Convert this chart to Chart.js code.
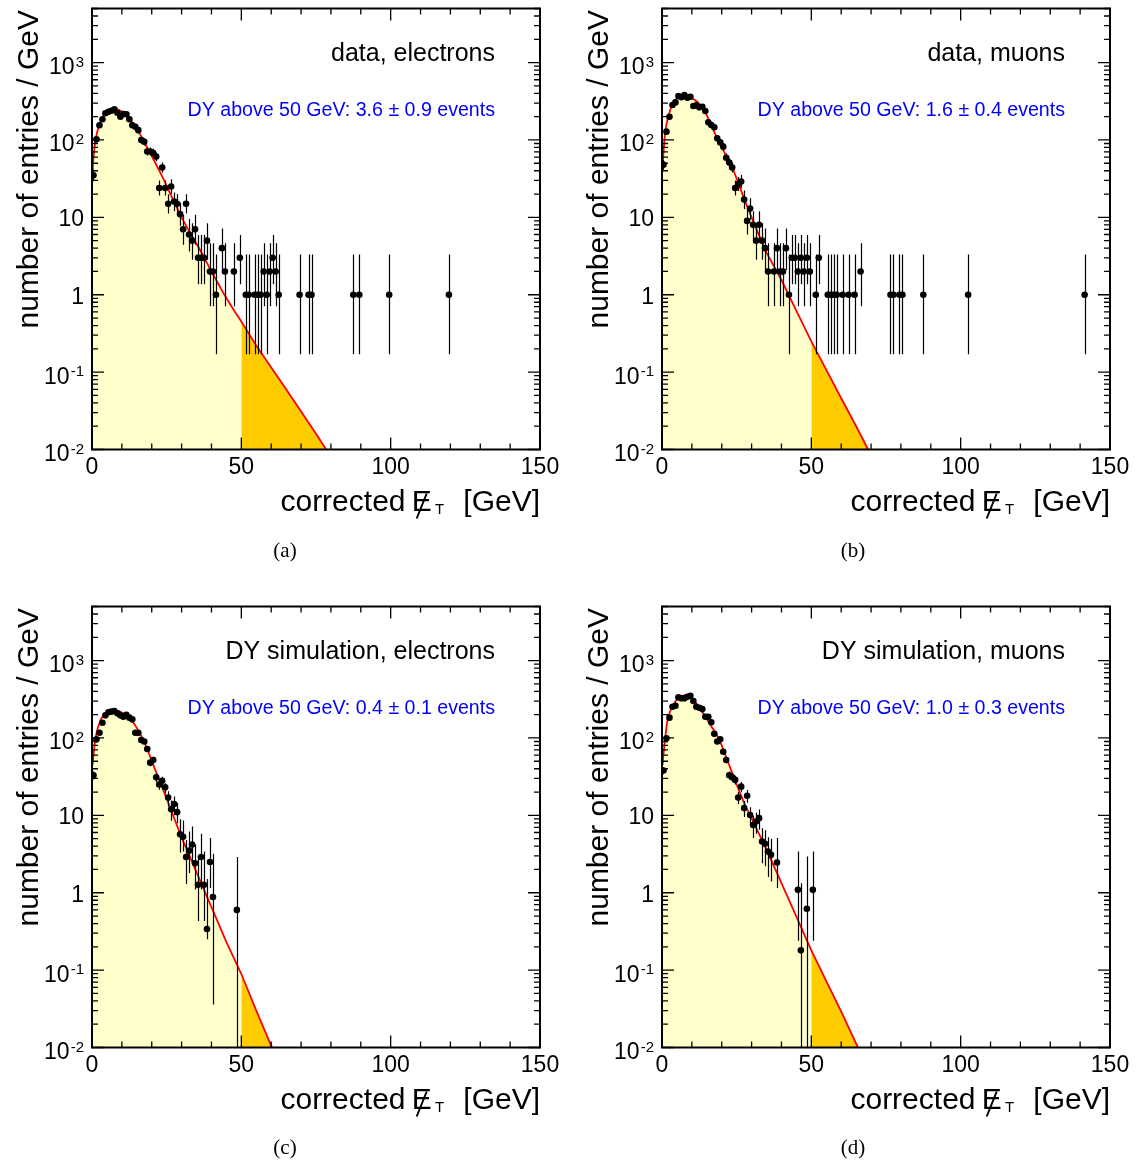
<!DOCTYPE html>
<html><head><meta charset="utf-8">
<script src="https://cdn.jsdelivr.net/npm/chart.js@4/dist/chart.umd.min.js"></script>
<style>
html,body{margin:0;padding:0;background:#fff;}
body{width:1136px;height:1165px;position:relative;overflow:hidden;font-family:"Liberation Sans",Arial,sans-serif;}
canvas{position:absolute;}
.cap{position:absolute;font-family:"Liberation Serif","DejaVu Serif",serif;font-size:21px;color:#000;transform:translate(-50%,-50%);white-space:nowrap;}
</style></head><body>
<canvas id="pa" width="570" height="598" style="left:0;top:0"></canvas>
<canvas id="pb" width="570" height="598" style="left:570px;top:0"></canvas>
<canvas id="pc" width="570" height="567" style="left:0;top:598px"></canvas>
<canvas id="pd" width="570" height="567" style="left:570px;top:598px"></canvas>
<div class="cap" style="left:285px;top:550px">(a)</div>
<div class="cap" style="left:853px;top:550px">(b)</div>
<div class="cap" style="left:285px;top:1147px">(c)</div>
<div class="cap" style="left:853px;top:1147px">(d)</div>
<script>
// ---------------- axis definitions ----------------
const X_MIN = 0, X_MAX = 150;
const Y_MIN = 0.01, Y_MAX = 5000;
const X_TICKS = [0, 50, 100, 150];
const Y_TICKS = [0.01, 0.1, 1, 10, 100, 1000];
const Y_TICK_BASE = ['10', '10', '1', '10', '10', '10'];
const Y_TICK_EXP = ['-2', '-1', '', '', '2', '3'];
const Y_TITLE = 'number of entries / GeV';
const X_TITLE_MAIN = 'corrected';
const X_TITLE_SYM = 'E';
const X_TITLE_SUB = 'T';
const X_TITLE_UNIT = '[GeV]';
const CUT = 50;

// ---------------- panel (a): data, electrons ----------------
const aLabel = 'data, electrons';
const aNote = 'DY above 50 GeV: 3.6 \u00B1 0.9 events';
const aX = [0.5,1.5,2.5,3.5,4.5,5.5,6.5,7.5,8.5,9.5,10.5,11.5,12.5,13.5,14.5,15.5,16.5,17.5,18.5,19.5,20.5,21.5,22.5,23.5,24.5,25.5,26.5,27.5,28.5,29.5,30.5,31.5,32.5,33.5,34.5,35.5,36.5,37.5,38.5,39.5,40.5,41.5,43.5,44.5,47.5,49.5,51.5,52.5,54.5,55.5,56.5,57.5,58.5,59.5,60.5,61.5,62.5,69.5,72.5,73.5,87.5,89.5,99.5,119.5];
const aY = [35,102,155,185,221,232,239,250,225,200,216,215,185,155,148,134,100,95,71,71,68,61,24,44,24,15,25,16,15,11,7,15,6,5,7,3,3,3,5,2,2,1,4,2,2,3,1,1,1,1,1,2,1,2,3,2,1,1,1,1,1,1,1,1];
const aLo = [29.2,92,143,171,206,217,224,234,210,186,201,200,171,143,136,122,90,85,63,63,60,53,19.2,37.9,19.2,11.2,20.0,12.0,11.2,7.8,4.42,11.2,3.62,2.84,4.42,1.37,1.37,1.37,2.84,0.71,0.71,0.17,2.09,0.71,0.71,1.37,0.17,0.17,0.17,0.17,0.17,0.71,0.17,0.71,1.37,0.71,0.17,0.17,0.17,0.17,0.17,0.17,0.17,0.17];
const aHi = [41.4,112,167,199,236,247,255,266,240,214,231,230,199,167,160,146,110,105,80,80,77,69,29.9,51.2,29.9,19.9,31.0,21.0,19.9,15.4,10.77,19.9,9.58,8.38,10.77,5.92,5.92,5.92,8.38,4.64,4.64,3.3,7.16,4.64,4.64,5.92,3.3,3.3,3.3,3.3,3.3,4.64,3.3,4.64,5.92,4.64,3.3,3.3,3.3,3.3,3.3,3.3,3.3,3.3];
const aFitX = [0.2,0.5,1,1.5,2,3,4,5,6,7,8,9,10,11,12,13,14,15,16,17,18,19,20,22,24,26,28,30,32,34,36,38,40,42,44,46,48,50,55,60,65,70,75,78.4];
const aFitY = [40,60,90,115,140,180,212,235,248,254,252,245,232,216,198,180,160,140,120,102,86,73,62,44,31,21,14.5,10,7.2,5.3,3.9,2.8,2.0,1.45,1.05,0.78,0.59,0.45,0.22,0.115,0.06,0.031,0.016,0.01];

// ---------------- panel (b): data, muons ----------------
const bLabel = 'data, muons';
const bNote = 'DY above 50 GeV: 1.6 \u00B1 0.4 events';
const bX = [0.5,1.5,2.5,3.5,4.5,5.5,6.5,7.5,8.5,9.5,10.5,11.5,12.5,13.5,14.5,15.5,16.5,17.5,18.5,19.5,20.5,21.5,22.5,23.5,24.5,25.5,26.5,27.5,28.5,29.5,30.5,31.5,32.5,33.5,34.5,35.5,37.5,38.5,39.5,40.5,41.5,42.5,43.5,44.5,45.5,46.5,47.5,48.5,49.5,51.5,52.5,55.5,56.5,57.5,58.5,60.5,62.5,64.5,66.5,76.5,77.5,79.5,80.5,87.5,102.5,141.5];
const bY = [48,128,200,283,306,370,356,381,351,362,275,280,264,268,237,169,156,146,105,93,82,59,51,44,24,27,29,17,9,13,8,5,8,5,4,2,2,4,2,2,4,1,3,3,2,3,2,3,2,1,3,1,1,1,1,1,1,1,2,1,1,1,1,1,1,1];
const bLo = [41.2,117,186,266,289,351,337,361,332,343,258,263,248,252,222,156,144,134,95,83,73,51,44,38,19.2,21.9,23.7,12.8,6.0,9.4,5.23,2.84,5.23,2.84,2.09,0.71,0.71,2.09,0.71,0.71,2.09,0.17,1.37,1.37,0.71,1.37,0.71,1.37,0.71,0.17,1.37,0.17,0.17,0.17,0.17,0.17,0.17,0.17,0.71,0.17,0.17,0.17,0.17,0.17,0.17,0.17];
const bHi = [55.0,139,214,300,324,389,375,400,370,381,292,297,280,284,252,182,168,158,115,103,91,67,58,51,29.9,33.2,35.3,22.2,13.1,17.6,11.95,8.38,11.95,8.38,7.16,4.64,4.64,7.16,4.64,4.64,7.16,3.3,5.92,5.92,4.64,5.92,4.64,5.92,4.64,3.3,5.92,3.3,3.3,3.3,3.3,3.3,3.3,3.3,4.64,3.3,3.3,3.3,3.3,3.3,3.3,3.3];
const bFitX = [0.2,0.5,1,1.5,2,3,4,5,6,7,8,9,10,11,12,13,14,15,16,17,18,19,20,22,24,26,28,30,32,35,40,45,50,55,60,65,69];
const bFitY = [45,70,120,160,195,262,312,345,368,378,375,365,348,328,305,280,245,208,172,140,115,96,81,57,40,25,15.5,10,6.5,3.5,1.55,0.62,0.25,0.107,0.046,0.02,0.01];

// ---------------- panel (c): DY simulation, electrons ----------------
const cLabel = 'DY simulation, electrons';
const cNote = 'DY above 50 GeV: 0.4 \u00B1 0.1 events';
const cX = [0.5,1.5,2.5,3.5,4.5,5.5,6.5,7.5,8.5,9.5,10.5,11.5,12.5,13.5,14.5,15.5,16.5,17.5,18.5,19.5,20.5,21.5,22.5,23.5,24.5,25.5,26.5,27.5,28.5,29.5,30.5,31.5,32.5,33.5,34.5,35.5,36.5,37.5,38.5,39.5,40.5,48.5];
const cY = [33,96,117,157,196,215,219,223,208,196,188,200,183,174,117,117,94,90,72,48,52,31,25,28,23,17,12,14,11,5.7,5.3,2.9,3.5,4.2,2.4,1.27,2.9,1.27,0.34,2.5,0.88,0.6];
const cLo = [29,89,109,148,186,205,209,213,198,186,178,190,174,165,109,109,87,83,66,43,47,27,21.5,24.5,19,13,8.5,10,7.9,3.3,3.4,1.3,1.8,2.4,1.1,0.43,1.1,0.43,0.25,1.15,0.036,0.001];
const cHi = [37,103,125,166,206,225,229,233,218,206,198,210,192,183,125,125,101,97,78,53,57,35,28.5,31.5,26,20.5,15.5,17.5,14.4,8.9,8.6,4.8,6.2,7.2,4.2,3.0,5.8,3.4,1.5,5.1,3.2,2.9];
const cFitX = [0.2,0.5,1,1.5,2,3,4,5,6,7,8,9,10,11,12,13,14,15,16,17,18,19,20,22,24,26,28,30,35,40,45,50,55,60,60.2];
const cFitY = [45,60,90,115,138,175,200,216,226,230,228,222,213,202,190,175,155,135,115,97,80,64,51,32,20.5,13,8.2,5.2,1.84,0.65,0.23,0.089,0.03,0.0105,0.01];

// ---------------- panel (d): DY simulation, muons ----------------
const dLabel = 'DY simulation, muons';
const dNote = 'DY above 50 GeV: 1.0 \u00B1 0.3 events';
const dX = [0.5,1.5,2.5,3.5,4.5,5.5,6.5,7.5,8.5,9.5,10.5,11.5,12.5,13.5,14.5,15.5,16.5,17.5,18.5,19.5,20.5,21.5,22.5,23.5,24.5,25.5,26.5,27.5,28.5,29.5,30.5,31.5,32.5,33.5,34.5,35.5,36.5,38.5,45.5,46.5,48.5,50.5];
const dY = [38,99,183,253,261,335,325,325,341,351,300,253,246,236,188,188,160,113,90,96,66.5,52,33,31,28.7,17,23.5,12.4,17.9,10.1,7.5,8.3,9.2,4.6,4.3,3.4,3.1,2.46,1.09,0.18,0.62,1.09];
const dLo = [34,92,174,242,250,323,313,313,329,339,289,242,235,225,179,179,151,106,84,89,61,47,29,27,25,14,20,9.5,14.5,7.5,5.1,5.8,6.5,2.4,2.2,1.6,1.4,1.15,0.24,0.001,0.001,0.24];
const dHi = [42,106,192,264,272,347,337,337,353,363,311,264,257,247,197,197,169,120,96,103,72,57,37,35,32.5,20,27,15.3,21.3,12.7,9.9,10.8,11.9,6.8,6.4,5.2,5.0,5.1,3.4,1.33,2.94,3.4];
const dFitX = [0.2,0.5,1,1.5,2,3,4,5,6,7,8,9,10,11,12,13,14,15,16,17,18,19,20,22,24,26,28,30,32,35,40,45,50,55,60,65.6];
const dFitY = [45,62,94,140,185,235,275,318,340,352,358,345,322,295,262,232,203,176,152,132,117,97,80,50,31.5,20,13,9.2,6.3,3.6,1.33,0.49,0.18,0.072,0.029,0.01];

// ---------------- styles ----------------
const FONT = '"Liberation Sans", Arial, Helvetica, sans-serif';
const COL_FILL_LOW = '#ffffcc';
const COL_FILL_HIGH = '#ffcc00';
const COL_FIT = '#ff0000';
const COL_NOTE = '#0000ff';

const PANELS = [
  {id:'pa', label:aLabel, note:aNote, x:aX, y:aY, lo:aLo, hi:aHi, fx:aFitX, fy:aFitY, xh:148.5},
  {id:'pb', label:bLabel, note:bNote, x:bX, y:bY, lo:bLo, hi:bHi, fx:bFitX, fy:bFitY, xh:148.5},
  {id:'pc', label:cLabel, note:cNote, x:cX, y:cY, lo:cLo, hi:cHi, fx:cFitX, fy:cFitY, xh:117.5},
  {id:'pd', label:dLabel, note:dNote, x:dX, y:dY, lo:dLo, hi:dHi, fx:dFitX, fy:dFitY, xh:117.5}
];

const decor = {
  id: 'decor',
  afterDatasetsDraw(chart, args, opts) {
    const p = opts.panel;
    const {ctx, chartArea: a} = chart;
    const xs = chart.scales.x, ys = chart.scales.y;
    ctx.save();
    ctx.beginPath();
    ctx.rect(a.left, a.top, a.right - a.left, a.bottom - a.top);
    ctx.clip();
    ctx.strokeStyle = '#000';
    ctx.lineWidth = 1.2;
    for (let i = 0; i < p.x.length; i++) {
      const px = Math.round(xs.getPixelForValue(p.x[i])) + 0.5;
      ctx.beginPath();
      ctx.moveTo(px, ys.getPixelForValue(p.lo[i]));
      ctx.lineTo(px, ys.getPixelForValue(p.hi[i]));
      ctx.stroke();
    }
    ctx.restore();
  },
  afterDraw(chart, args, opts) {
    const p = opts.panel;
    const {ctx, chartArea: a} = chart;
    const xs = chart.scales.x, ys = chart.scales.y;
    ctx.save();
    // ticks (inward, all four sides)
    ctx.strokeStyle = '#000';
    ctx.lineWidth = 1.3;
    ctx.beginPath();
    for (let v = X_MIN; v <= X_MAX; v += 10) {
      const len = X_TICKS.includes(v) ? 12 : 6;
      const px = xs.getPixelForValue(v);
      ctx.moveTo(px, a.bottom); ctx.lineTo(px, a.bottom - len);
      ctx.moveTo(px, a.top); ctx.lineTo(px, a.top + len);
    }
    for (let k = -2; k <= 3; k++) {
      for (let m = 1; m <= 9; m++) {
        const v = m * Math.pow(10, k);
        if (v > Y_MAX) break;
        const len = m === 1 ? 12 : 6;
        const py = ys.getPixelForValue(v);
        ctx.moveTo(a.left, py); ctx.lineTo(a.left + len, py);
        ctx.moveTo(a.right, py); ctx.lineTo(a.right - len, py);
      }
    }
    ctx.stroke();
    // frame
    ctx.lineWidth = 2;
    ctx.strokeRect(a.left, a.top, a.right - a.left, a.bottom - a.top);

    // y tick labels with superscript exponents
    ctx.fillStyle = '#000';
    ctx.textBaseline = 'alphabetic';
    ctx.textAlign = 'left';
    const xr = a.left - 8;
    Y_TICKS.forEach((v, i) => {
      const py = ys.getPixelForValue(v);
      const base = Y_TICK_BASE[i], ex = Y_TICK_EXP[i];
      ctx.font = '15px ' + FONT;
      const we = ex ? ctx.measureText(ex).width + 1 : 0;
      ctx.font = '23px ' + FONT;
      const wb = ctx.measureText(base).width;
      const x0 = xr - we - wb;
      ctx.fillText(base, x0, py + (ex ? 11.5 : 9));
      if (ex) {
        ctx.font = '15px ' + FONT;
        ctx.fillText(ex, x0 + wb + 1, py + 4);
      }
    });

    // panel label + note
    ctx.fillStyle = '#000';
    ctx.textAlign = 'right';
    ctx.font = '25px ' + FONT;
    ctx.fillText(p.label, a.right - 45, a.top + 52.5);
    ctx.fillStyle = COL_NOTE;
    ctx.font = '19.6px ' + FONT;
    ctx.fillText(p.note, a.right - 45, a.top + 107.5);

    // y title
    ctx.fillStyle = '#000';
    ctx.save();
    ctx.translate(37.5, a.top + 1.5);
    ctx.rotate(-Math.PI / 2);
    ctx.textAlign = 'right';
    ctx.font = '30px ' + FONT;
    ctx.fillText(Y_TITLE, 0, 0);
    ctx.restore();

    // x title: corrected E-slash_T [GeV]
    const base = a.bottom + 61;
    const R = a.right;
    ctx.strokeStyle = '#000';
    ctx.font = '30px ' + FONT;
    ctx.textAlign = 'right';
    ctx.fillText(X_TITLE_UNIT, R, base);
    ctx.fillText(X_TITLE_MAIN, R - 134.5, base);
    ctx.textAlign = 'left';
    const eLeft = R - 128.3;
    ctx.fillText(X_TITLE_SYM, eLeft, base);
    ctx.lineWidth = 2;
    ctx.beginPath();
    ctx.moveTo(eLeft + 5, base + 8);
    ctx.lineTo(eLeft + 15, base - 17);
    ctx.stroke();
    ctx.font = '15px ' + FONT;
    ctx.fillText(X_TITLE_SUB, R - 105, base + 3);
    ctx.restore();
  }
};

PANELS.forEach(p => {
  const pts = p.x.map((v, i) => ({x: v, y: p.y[i]}));
  const fit = p.fx.map((v, i) => ({x: v, y: p.fy[i]}));
  const below = fit.filter(q => q.x <= CUT);
  const above = fit.filter(q => q.x >= CUT);
  new Chart(document.getElementById(p.id), {
    data: {
      datasets: [
        {type: 'scatter', data: pts, pointRadius: 3.3, pointBackgroundColor: '#000', pointBorderColor: '#000', pointBorderWidth: 0, showLine: false, order: 0},
        {type: 'line', data: fit, borderColor: COL_FIT, borderWidth: 1.8, pointRadius: 0, fill: false, tension: 0, order: 1},
        {type: 'line', data: above, borderWidth: 0, borderColor: 'rgba(0,0,0,0)', backgroundColor: COL_FILL_HIGH, fill: 'start', pointRadius: 0, tension: 0, order: 2},
        {type: 'line', data: below, borderWidth: 0, borderColor: 'rgba(0,0,0,0)', backgroundColor: COL_FILL_LOW, fill: 'start', pointRadius: 0, tension: 0, order: 3}
      ]
    },
    options: {
      responsive: false,
      animation: false,
      events: [],
      layout: {padding: {top: 8.5, right: 30, left: 0, bottom: 0}},
      plugins: {legend: {display: false}, tooltip: {enabled: false}, decor: {panel: p}},
      scales: {
        x: {
          type: 'linear', min: X_MIN, max: X_MAX, position: 'bottom',
          grid: {display: false, drawTicks: false}, border: {display: false},
          ticks: {autoSkip: false, maxRotation: 0, padding: 4, color: '#000', font: {family: FONT, size: 23}},
          afterBuildTicks: s => { s.ticks = X_TICKS.map(v => ({value: v})); },
          afterFit: s => { s.height = p.xh; s.paddingLeft = 0; s.paddingRight = 0; }
        },
        y: {
          type: 'logarithmic', min: Y_MIN, max: Y_MAX, position: 'left',
          grid: {display: false, drawTicks: false}, border: {display: false},
          ticks: {display: false},
          afterBuildTicks: s => { s.ticks = Y_TICKS.map(v => ({value: v})); },
          afterFit: s => { s.width = 92; s.paddingTop = 0; s.paddingBottom = 0; }
        }
      }
    },
    plugins: [decor]
  });
});
</script>
</body></html>
